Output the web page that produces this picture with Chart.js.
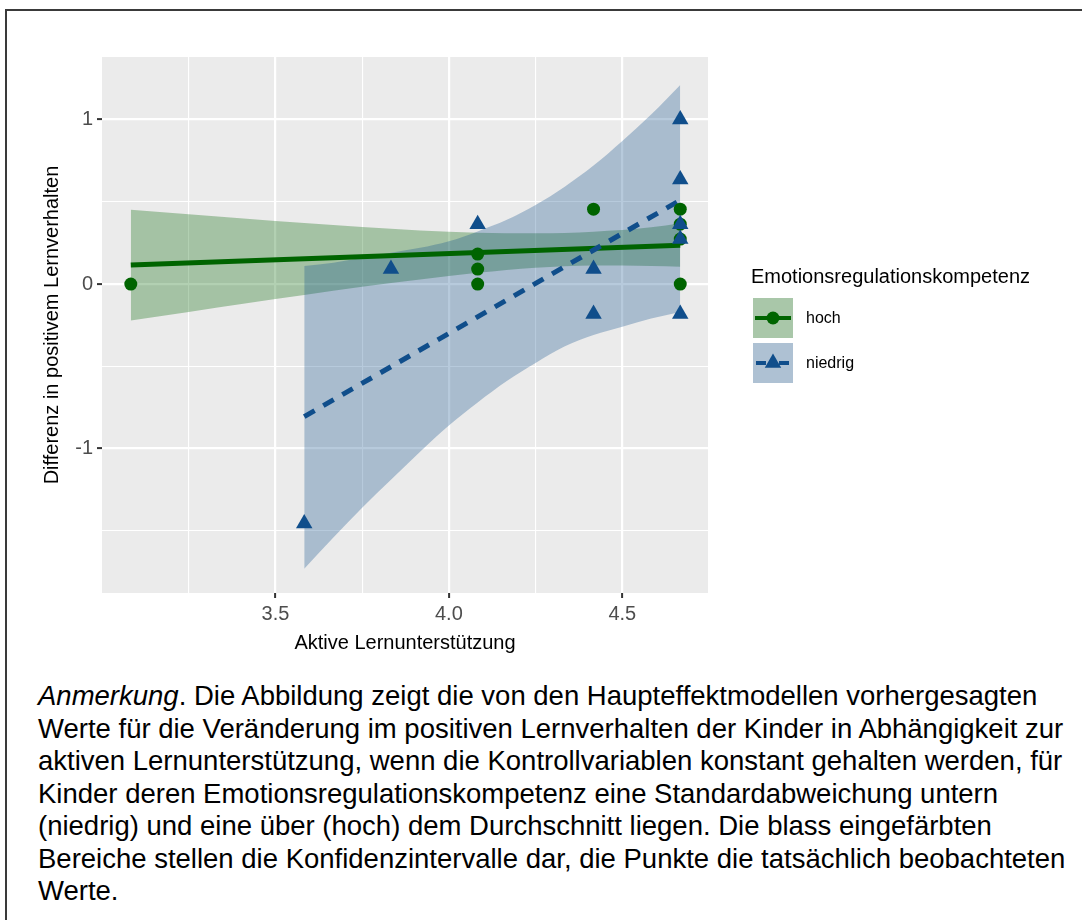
<!DOCTYPE html>
<html>
<head>
<meta charset="utf-8">
<script src="https://cdn.jsdelivr.net/npm/chart.js@4"></script>
<style>
  html, body { margin: 0; padding: 0; background: #fff; width: 1082px; height: 920px; overflow: hidden; }
  #frame { position: absolute; left: 5px; top: 9px; width: 1200px; height: 1000px;
           border-top: 2px solid #3a3a3a; border-left: 2px solid #3a3a3a; }
  #plot { position: absolute; left: 0; top: 0; }
  #note { position: absolute; left: 38px; top: 680px; color: #000; white-space: nowrap;
          font-family: "Liberation Sans", Arial, sans-serif; font-size: 27.5px; line-height: 32.5px; }
</style>
</head>
<body>
<div id="frame"></div>
<canvas id="plot" width="1082" height="660"></canvas>
<div id="note"><i>Anmerkung</i>. Die Abbildung zeigt die von den Haupteffektmodellen vorhergesagten<br>Werte für die Veränderung im positiven Lernverhalten der Kinder in Abhängigkeit zur<br>aktiven Lernunterstützung, wenn die Kontrollvariablen konstant gehalten werden, für<br>Kinder deren Emotionsregulationskompetenz eine Standardabweichung untern<br>(niedrig) und eine über (hoch) dem Durchschnitt liegen. Die blass eingefärbten<br>Bereiche stellen die Konfidenzintervalle dar, die Punkte die tatsächlich beobachteten<br>Werte.</div>
<script>
// observed points
const hochX = [3.083, 4.083, 4.083, 4.083, 4.417, 4.667, 4.667, 4.667, 4.667];
const hochY = [0, 0.182, 0.091, 0, 0.455, 0.455, 0.364, 0.273, 0];
const niedrigX = [3.583, 3.833, 4.083, 4.417, 4.417, 4.667, 4.667, 4.667, 4.667, 4.667];
const niedrigY = [-1.455, 0.091, 0.364, 0.091, -0.182, 1.0, 0.636, 0.364, 0.273, -0.182];

// predicted lines
const hochFitX = [3.083, 4.667];
const hochFitY = [0.115, 0.235];
const niedrigFitX = [3.583, 4.667];
const niedrigFitY = [-0.806, 0.51];

// confidence bands
const hochBandX = [3.083, 3.25, 3.417, 3.583, 3.75, 3.917, 4.083, 4.25, 4.417, 4.583, 4.667];
const hochLower = [-0.222, -0.170, -0.117, -0.067, -0.017, 0.028, 0.068, 0.099, 0.113, 0.110, 0.105];
const hochUpper = [0.452, 0.424, 0.397, 0.371, 0.347, 0.326, 0.312, 0.308, 0.318, 0.345, 0.37];
const niedrigBandX = [3.583, 3.667, 3.75, 3.833, 3.917, 4.0, 4.083, 4.167, 4.25, 4.333, 4.417, 4.5, 4.583, 4.667];
const niedrigLower = [-1.73, -1.54, -1.36, -1.19, -1.02, -0.86, -0.72, -0.59, -0.48, -0.38, -0.31, -0.26, -0.21, -0.17];
const niedrigUpper = [0.11, 0.13, 0.16, 0.19, 0.22, 0.26, 0.32, 0.39, 0.48, 0.59, 0.72, 0.87, 1.03, 1.21];

// axes
const xTicks = [3.25, 3.5, 3.75, 4.0, 4.25, 4.5];
const xTickLabels = ['', '3.5', '', '4.0', '', '4.5'];
const yTicks = [-1.5, -1, -0.5, 0, 0.5, 1];
const yTickLabels = ['', '-1', '', '0', '', '1'];
const xTitle = 'Aktive Lernunterstützung';
const yTitle = 'Differenz in positivem Lernverhalten';
const legendTitle = 'Emotionsregulationskompetenz';
const groups = ['hoch', 'niedrig'];

const green = '#006400';
const blue = '#104E8B';
const greenFill = 'rgba(0,100,0,0.3)';
const blueFill = 'rgba(16,78,139,0.3)';
const font = '"Liberation Sans", Arial, sans-serif';
Chart.defaults.font.family = font;

const pts = (xs, ys) => xs.map((x, i) => ({ x: x, y: ys[i] }));

const band = (xs, ys, fill, order, fillMode) => ({
  type: 'line', data: pts(xs, ys), borderColor: 'transparent', borderWidth: 0,
  pointRadius: 0, backgroundColor: fill, fill: fillMode, order: order,
  cubicInterpolationMode: 'monotone'
});

const panelBg = {
  id: 'panelBg',
  beforeDraw(chart) {
    const { ctx, chartArea: a } = chart;
    ctx.save();
    ctx.fillStyle = '#EBEBEB';
    ctx.fillRect(a.left, a.top, a.right - a.left, a.bottom - a.top);
    ctx.restore();
  }
};

const decorations = {
  id: 'decorations',
  afterDraw(chart) {
    const { ctx, chartArea: a } = chart;
    ctx.save();
    ctx.fillStyle = '#000';
    ctx.font = '20px ' + font;
    ctx.textAlign = 'center';
    ctx.textBaseline = 'middle';
    ctx.fillText(xTitle, (a.left + a.right) / 2, 643);
    ctx.save();
    ctx.translate(52, (a.top + a.bottom) / 2);
    ctx.rotate(-Math.PI / 2);
    ctx.fillText(yTitle, 0, 0);
    ctx.restore();

    // legend
    ctx.textAlign = 'left';
    ctx.fillText(legendTitle, 751, 277);
    const fills = [greenFill, blueFill];
    const cols = [green, blue];
    groups.forEach((g, i) => {
      const y0 = 298 + i * 45;
      const cy = y0 + 20;
      ctx.fillStyle = '#F2F2F2';
      ctx.fillRect(753, y0, 40, 40);
      ctx.fillStyle = fills[i];
      ctx.fillRect(753, y0, 40, 40);
      ctx.strokeStyle = cols[i];
      ctx.lineWidth = 4;
      ctx.beginPath();
      if (i === 0) {
        ctx.moveTo(755, cy); ctx.lineTo(791, cy);
      } else {
        ctx.moveTo(756, cy); ctx.lineTo(766, cy);
        ctx.moveTo(779, cy); ctx.lineTo(789, cy);
      }
      ctx.stroke();
      ctx.fillStyle = cols[i];
      ctx.beginPath();
      if (i === 0) {
        ctx.arc(773, cy, 6.5, 0, Math.PI * 2);
      } else {
        const r = 9.5;
        ctx.moveTo(773, cy - r);
        ctx.lineTo(773 + r * Math.sqrt(3) / 2, cy + r / 2);
        ctx.lineTo(773 - r * Math.sqrt(3) / 2, cy + r / 2);
        ctx.closePath();
      }
      ctx.fill();
      ctx.fillStyle = '#000';
      ctx.font = '16px ' + font;
      ctx.fillText(g, 806, cy + 1);
      ctx.font = '20px ' + font;
    });
    ctx.restore();
  }
};

const gridOpts = (labels) => ({
  color: '#FFFFFF',
  lineWidth: c => (labels[c.index] ? 2.2 : 1.1),
  tickLength: 5,
  tickWidth: 2,
  tickColor: c => (labels[c.index] ? '#333333' : 'rgba(0,0,0,0)')
});

new Chart(document.getElementById('plot'), {
  type: 'scatter',
  data: {
    datasets: [
      band(hochBandX, hochUpper, greenFill, 10, '+1'),
      band(hochBandX, hochLower, greenFill, 9, false),
      band(niedrigBandX, niedrigUpper, blueFill, 8, '+1'),
      band(niedrigBandX, niedrigLower, blueFill, 7, false),
      { type: 'line', label: 'hoch', data: pts(hochFitX, hochFitY), borderColor: green,
        borderWidth: 5, pointRadius: 0, fill: false, order: 6 },
      { type: 'line', label: 'niedrig', data: pts(niedrigFitX, niedrigFitY), borderColor: blue,
        borderWidth: 5, borderDash: [12, 10], pointRadius: 0, fill: false, order: 5 },
      { label: 'hoch', data: pts(hochX, hochY), pointStyle: 'circle', pointRadius: 6.5,
        backgroundColor: green, borderWidth: 0, order: 4 },
      { label: 'niedrig', data: pts(niedrigX, niedrigY), pointStyle: 'triangle', pointRadius: 9.5,
        backgroundColor: blue, borderWidth: 0, order: 3 }
    ]
  },
  options: {
    responsive: false,
    animation: false,
    events: [],
    layout: { padding: { top: 57, right: 374, bottom: 0, left: 0 } },
    plugins: { legend: { display: false }, tooltip: { enabled: false } },
    scales: {
      x: {
        type: 'linear', min: 3.0, max: 4.747,
        afterFit: s => { s.height = 67; },
        afterBuildTicks: s => { s.ticks = xTicks.map(v => ({ value: v })); },
        border: { display: false },
        grid: gridOpts(xTickLabels),
        ticks: { autoSkip: false, maxRotation: 0, padding: 4, color: '#4D4D4D',
                 font: { size: 20 }, callback: (v, i) => xTickLabels[i] }
      },
      y: {
        type: 'linear', min: -1.878, max: 1.38,
        afterFit: s => { s.width = 102; },
        afterBuildTicks: s => { s.ticks = yTicks.map(v => ({ value: v })); },
        border: { display: false },
        grid: gridOpts(yTickLabels),
        ticks: { autoSkip: false, padding: 4, color: '#4D4D4D',
                 font: { size: 20 }, callback: (v, i) => yTickLabels[i] }
      }
    }
  },
  plugins: [panelBg, decorations]
});
</script>
</body>
</html>
